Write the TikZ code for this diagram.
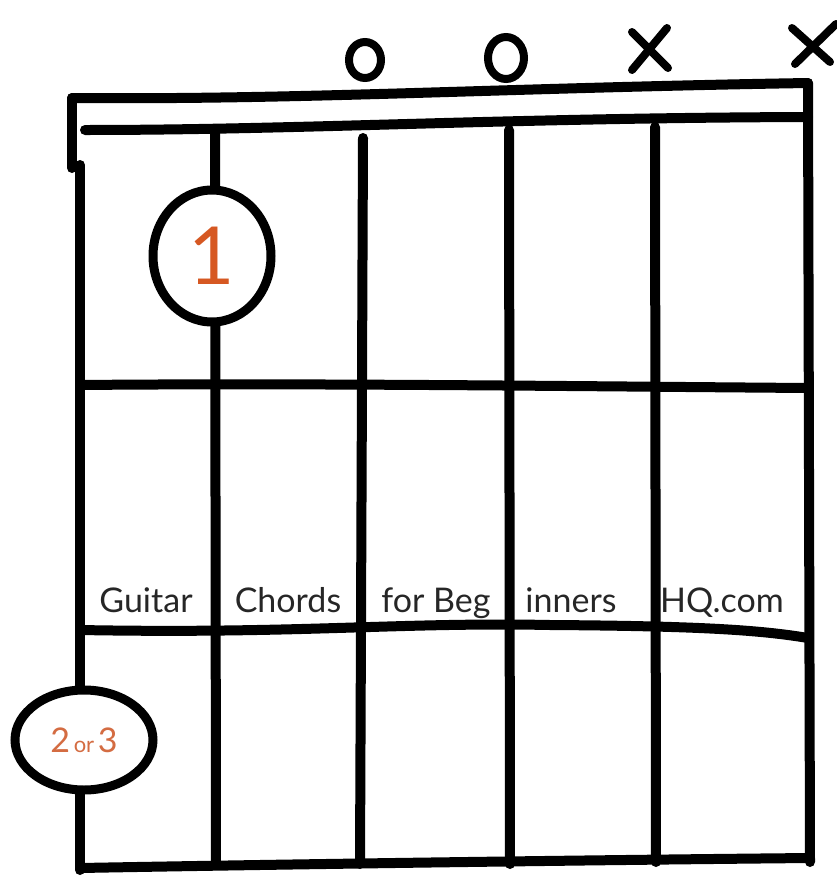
\documentclass[tikz,border=0pt]{standalone}
\usepackage{fontspec}
\setmainfont{Lato}
\usetikzlibrary{shapes.geometric}
\definecolor{fingerorange}{RGB}{214,88,34}
\definecolor{labelorange}{RGB}{212,108,66}
\tikzset{
  ink/.style={line width=10pt, line cap=round, line join=round, black},
  thinink/.style={line width=8pt, line cap=round, black},
  finger/.style={draw=black, line width=9pt, fill=white, ellipse, inner sep=0pt},
  openmark/.style={draw=black, line width=8pt, ellipse, minimum width=32pt, minimum height=36pt, inner sep=0pt},
  lbl/.style={font=\fontsize{34}{36}\selectfont, text=black!85, inner sep=0pt, anchor=base},
}
\begin{document}
\begin{tikzpicture}[x=1pt,y=-1pt]
\useasboundingbox (0,0) rectangle (836,881);
% named corner coordinates
\coordinate (nutTL) at (72,98);
\coordinate (nutTR) at (808,83);
\coordinate (nutBL) at (85,130);
\coordinate (nutBR) at (808,117);
\coordinate (boxL) at (72,168);
\coordinate (s1t) at (80,165);   \coordinate (s1b) at (80,870);
\coordinate (s2t) at (215,132);  \coordinate (s2b) at (216,864);
\coordinate (s3t) at (363,138);  \coordinate (s3b) at (360,864);
\coordinate (s4t) at (509,130);  \coordinate (s4b) at (510,864);
\coordinate (s5t) at (655,127);  \coordinate (s5b) at (656,862);
\coordinate (s6t) at (808,83);   \coordinate (s6b) at (810,862);
\coordinate (f1l) at (80,385);   \coordinate (f1r) at (808,388);
\coordinate (f2l) at (80,630);   \coordinate (f2r) at (808,638);
\coordinate (f3l) at (80,868);   \coordinate (f3r) at (810,858);
% nut
\draw[ink] (nutTL) .. controls (300,100) and (500,88) .. (nutTR);
\draw[ink] (nutBL) .. controls (300,130) and (500,118) .. (nutBR);
\draw[ink] (nutTL) -- (boxL);
% strings
\draw[ink] (s1t) -- (s1b);
\draw[ink] (s2t) -- (s2b);
\draw[ink] (s3t) -- (s3b);
\draw[ink] (s4t) -- (s4b);
\draw[ink] (s5t) -- (s5b);
\draw[ink] (s6t) -- (s6b);
% frets
\draw[ink] (f1l) .. controls (300,383) and (550,386) .. (f1r);
\draw[ink] (f2l) .. controls (300,634) and (400,622) .. (550,625) .. controls (700,626) and (760,630) .. (f2r);
\draw[ink] (f3l) .. controls (300,864) and (600,860) .. (f3r);
% open / muted markers
\node[openmark] (o3) at (365,60) {};
\node[openmark, minimum width=36pt, minimum height=42pt] (o4) at (506,58) {};
\coordinate (x5a) at (632,32); \coordinate (x5b) at (668,68);
\coordinate (x5c) at (667,28); \coordinate (x5d) at (632,70);
\draw[thinink] (x5a) -- (x5b); \draw[thinink] (x5c) -- (x5d);
\coordinate (x6a) at (792,28); \coordinate (x6b) at (830,62);
\coordinate (x6c) at (836,24); \coordinate (x6d) at (795,64);
\draw[thinink] (x6a) -- (x6b); \draw[thinink] (x6c) -- (x6d);
% finger dots
\node[finger, minimum width=118pt, minimum height=132pt] (d1) at (212,256)
  {\fontsize{80}{80}\selectfont\color{fingerorange}1};
\node[finger, minimum width=138pt, minimum height=100pt] (d2) at (84,740)
  {\color{labelorange}{\fontsize{34}{34}\selectfont 2}{\fontsize{22}{22}\selectfont\,or\,}{\fontsize{34}{34}\selectfont 3}};
% watermark labels
\node[lbl] (l1) at (146,612) {Guitar};
\node[lbl] (l2) at (288,612) {Chords};
\node[lbl] (l3) at (436,612) {for Beg};
\node[lbl] (l4) at (571,612) {inners};
\node[lbl] (l5) at (722,612) {HQ.com};
\end{tikzpicture}
\end{document}
